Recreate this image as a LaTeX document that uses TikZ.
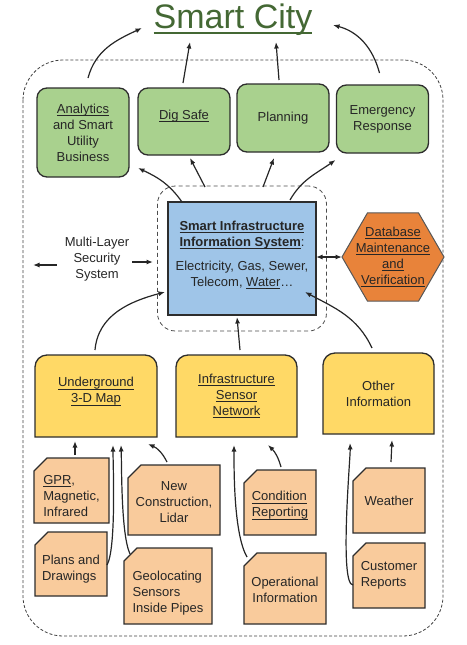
\documentclass[tikz,border=0pt]{standalone}
\usepackage{fontspec}
\setmainfont{Liberation Sans}
\usepackage{tikz}
\usetikzlibrary{arrows.meta, shapes, shapes.geometric, fit, backgrounds}

\definecolor{citygreen}{RGB}{68,104,52}
\definecolor{appgreen}{RGB}{169,209,142}
\definecolor{sysblue}{RGB}{159,197,232}
\definecolor{dborange}{RGB}{232,131,58}
\definecolor{srcyellow}{RGB}{255,217,102}
\definecolor{datapeach}{RGB}{249,203,156}
\definecolor{edgegray}{RGB}{45,45,45}

% underline with a fixed depth: \uln[thickness]{text}
\newcommand{\uln}[2][0.9pt]{\leavevmode\vtop{\setbox0\hbox{#2}\dp0=2pt\box0\hrule height #1}}
% struts to move a node's text up or down
\newcommand{\topgap}[1]{\rule{0pt}{#1}}
\newcommand{\botgap}[1]{\rule[-#1]{0pt}{#1}}

\begin{document}
\begin{tikzpicture}[x=1pt, y=1pt,
    every node/.style={font=\fontsize{13}{16}\selectfont, text=black!85, align=center, inner sep=0pt, outer sep=0pt},
    app/.style={draw=edgegray, line width=1.3pt, fill=appgreen, rounded corners=10pt, minimum width=92pt, minimum height=68pt},
    sis/.style={draw=edgegray, line width=1.6pt, fill=sysblue},
    sisframe/.style={draw=black!70, dash pattern=on 4pt off 3pt, line width=0.8pt, rounded corners=18pt},
    dbhex/.style={regular polygon, regular polygon sides=6, minimum size=102pt, draw=edgegray!80, line width=1pt, fill=dborange},
    src/.style={minimum width=121pt, minimum height=82pt},
    srcshape/.style={draw=edgegray, line width=1.3pt, fill=srcyellow},
    data/.style={minimum width=72pt, minimum height=65pt},
    datashape/.style={draw=edgegray, line width=1.3pt, fill=datapeach},
    outer/.style={draw=black!75, dash pattern=on 3pt off 2pt, line width=0.8pt, rounded corners=40pt},
    arr/.style={-{Latex[length=6.5pt,width=5pt]}, line width=1.2pt, draw=black!85},
    dbl/.style={arr, {Latex[length=6.5pt,width=5pt]}-{Latex[length=6.5pt,width=5pt]}}]
    \useasboundingbox (0,0) rectangle (466,-645);

    \draw[outer] (23,-60) rectangle (443,-636);

    \node[anchor=base, font=\fontsize{34}{40}\selectfont, text=citygreen] (city) at (233,-28)
        {\vtop{\setbox0\hbox{Smart City}\dp0=4pt\box0\hrule height 1.6pt}};

    % applications
    \node[app, minimum height=89pt] (ana) at (83,-132.5) {\uln{Analytics}\\and Smart\\Utility\\Business};
    \node[app, minimum height=67pt] (dig) at (184,-121.5) {\uln{Dig Safe}\botgap{14pt}};
    \node[app] (plan) at (283,-118) {Planning};
    \node[app] (emer) at (382.5,-119) {Emergency\\Response};

    % core system
    \node[sis, minimum width=148pt, minimum height=113pt] (sis) at (242,-258.5)
        {\textbf{\uln{Smart Infrastructure}}\\\textbf{\uln{Information System}}:\\[8pt]Electricity, Gas, Sewer,\\Telecom, \uln{Water}…\botgap{10pt}};
    \node[sisframe, fit=(sis), inner xsep=10.5pt, inner ysep=16pt] (frame) {};
    \node[dbhex] (db) at (393,-257) {};
    \node (dbtext) at (db.center) {\uln{Database}\\\uln{Maintenance}\\\uln{and}\\\uln{Verification}};
    \node (sec) at (97,-259) {Multi-Layer\\Security\\System};
    \coordinate (secl) at (33,-265);
    \coordinate (secr) at (153,-262);

    % sources
    \node[src, minimum width=122pt] (map) at (96,-396) {\uln{Underground}\\\uln{3-D Map}\botgap{12pt}};
    \node[src] (isn) at (236.5,-396) {\uln{Infrastructure}\\\uln{Sensor}\\\uln{Network}};
    \node[src, minimum width=111pt, minimum height=81pt] (other) at (378.5,-393.5) {Other\\Information};

    % raw data
    \node[data, minimum width=75pt, align=left] (gpr) at (71.5,-490.5) {\topgap{20pt}\uln{GPR},\\Magnetic,\\Infrared};
    \node[data, minimum height=64pt, align=left] (plans) at (71,-564) {\topgap{20pt}Plans and\\Drawings};
    \node[data, minimum width=92pt, minimum height=70pt] (newc) at (174,-500) {\topgap{13pt}New\\Construction,\\Lidar};
    \node[data, minimum width=88pt, minimum height=76pt, align=left] (geo) at (168,-586) {\topgap{23pt}Geolocating\\Sensors\\Inside Pipes};
    \node[data, align=left] (cond) at (280,-502.5) {\topgap{15pt}\uln{Condition}\\\uln{Reporting}};
    \node[data, minimum width=82pt, minimum height=71pt] (oper) at (285,-588.5) {\topgap{12pt}Operational\\Information};
    \node[data] (wthr) at (389,-500.5) {Weather};
    \node[data, align=left] (cust) at (389,-575.5) {Customer\\Reports};

    \begin{scope}[on background layer]
        \foreach \n in {map, isn, other}
            \filldraw[srcshape] (\n.west) [rounded corners=12pt] -- (\n.north west) -- (\n.north east) -- (\n.east)
                [sharp corners] -- (\n.south east) -- (\n.south west) -- cycle;
        \foreach \n in {gpr, plans, newc, geo, cond, oper, wthr, cust}
            \filldraw[datashape] (\n.south west) -- ([yshift=-13]\n.north west) -- ([xshift=13]\n.north west)
                -- (\n.north east) -- (\n.south east) -- cycle;
    \end{scope}

    \draw[arr] ([shift={(5,10)}]ana.north) to[out=75,in=205] ([shift={(-91,0)}]city.base);
    \draw[arr] ([shift={(-1,5)}]dig.north) -- ([shift={(-43,-14)}]city.base);
    \draw[arr] ([shift={(-4,4)}]plan.north) -- ([shift={(43,-14)}]city.base);
    \draw[arr] ([shift={(-3,12)}]emer.north) to[out=105,in=-15] ([shift={(100,3)}]city.base);

    \draw[arr] ([xshift=-60]sis.north) to[out=125,in=-25] ([shift={(9,9)}]ana.south east);
    \draw[arr] ([shift={(-37,15)}]sis.north) -- ([shift={(6,-3)}]dig.south);
    \draw[arr] ([shift={(21,15)}]sis.north) -- ([shift={(-9,-6)}]plan.south);
    \draw[arr] ([shift={(48,2)}]sis.north) to[out=60,in=215] ([shift={(-1,-7)}]emer.south west);

    \draw[dbl] (sis.east |- db.west) -- (db.west);
    \draw[arr] ([shift={(-8,-6)}]sec.west) -- (secl);
    \draw[arr] ([shift={(3,-3)}]sec.east) -- (secr);

    \draw[arr] ([shift={(-1,5)}]map.north) to[out=85,in=195] ([shift={(-3,23)}]sis.south west);
    \draw[arr] ([shift={(3.5,5)}]isn.north) -- ([shift={(-5,-2)}]sis.south);
    \draw[arr] ([shift={(-6.5,5)}]other.north) to[out=115,in=-28] ([shift={(-11,23)}]sis.south east);

    \draw[arr] ([shift={(3.5,3)}]gpr.north) -- ([shift={(-21,-4)}]map.south);
    \draw[arr] ([yshift=-1]plans.east) to[out=60,in=-90,looseness=0.4] ([shift={(17,-8)}]map.south);
    \draw[arr] ([shift={(-38,-6)}]geo.north) to[out=115,in=-88,looseness=0.5] ([shift={(25,-8)}]map.south);
    \draw[arr] ([shift={(-7,3)}]newc.north) to[bend right=20] ([shift={(-9,-7)}]map.south east);
    \draw[arr] ([shift={(-38,-4)}]oper.north) to[out=120,in=-90,looseness=0.6] ([shift={(-2.5,-8)}]isn.south);
    \draw[arr] ([shift={(1,3)}]cond.north) to[bend right=15] ([shift={(31.5,-8)}]isn.south);
    \draw[arr] ([yshift=-9.5]cust.west) to[out=180,in=-88,looseness=0.25] ([shift={(-28.5,-9)}]other.south);
    \draw[arr] ([shift={(2,6)}]wthr.north) -- ([shift={(13.5,-6)}]other.south);
\end{tikzpicture}
\end{document}
